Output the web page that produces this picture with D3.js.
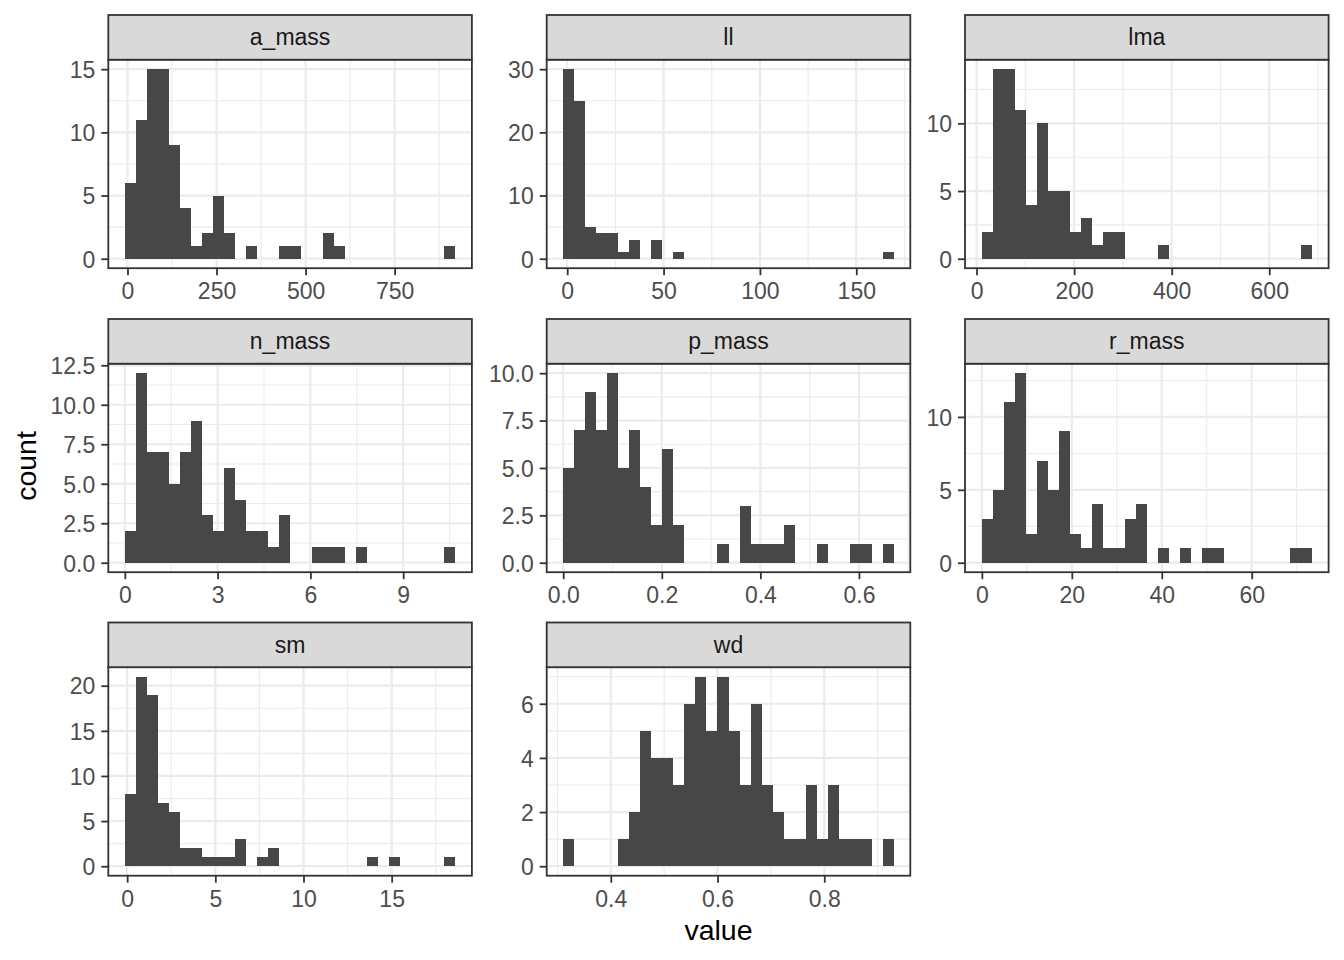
<!DOCTYPE html>
<html>
<head>
<meta charset="utf-8">
<script src="https://cdn.jsdelivr.net/npm/d3@7"></script>
<style>
  body { margin: 0; background: #fff; }
  svg { display: block; font-family: "Liberation Sans", Arial, sans-serif; }
</style>
</head>
<body>
<svg id="chart" width="1344" height="960"></svg>
<script>
// variables (facets), 30 bins each
var vars = ['a_mass', 'll', 'lma', 'n_mass', 'p_mass', 'r_mass', 'sm', 'wd'];

// bin counts
var countsAMass = [6, 11, 15, 15, 9, 4, 1, 2, 5, 2, 0, 1, 0, 0, 1, 1, 0, 0, 2, 1, 0, 0, 0, 0, 0, 0, 0, 0, 0, 1];
var countsLl    = [30, 25, 5, 4, 4, 1, 3, 0, 3, 0, 1, 0, 0, 0, 0, 0, 0, 0, 0, 0, 0, 0, 0, 0, 0, 0, 0, 0, 0, 1];
var countsLma   = [2, 14, 14, 11, 4, 10, 5, 5, 2, 3, 1, 2, 2, 0, 0, 0, 1, 0, 0, 0, 0, 0, 0, 0, 0, 0, 0, 0, 0, 1];
var countsNMass = [2, 12, 7, 7, 5, 7, 9, 3, 2, 6, 4, 2, 2, 1, 3, 0, 0, 1, 1, 1, 0, 1, 0, 0, 0, 0, 0, 0, 0, 1];
var countsPMass = [5, 7, 9, 7, 10, 5, 7, 4, 2, 6, 2, 0, 0, 0, 1, 0, 3, 1, 1, 1, 2, 0, 0, 1, 0, 0, 1, 1, 0, 1];
var countsRMass = [3, 5, 11, 13, 2, 7, 5, 9, 2, 1, 4, 1, 1, 3, 4, 0, 1, 0, 1, 0, 1, 1, 0, 0, 0, 0, 0, 0, 1, 1];
var countsSm    = [8, 21, 19, 7, 6, 2, 2, 1, 1, 1, 3, 0, 1, 2, 0, 0, 0, 0, 0, 0, 0, 0, 1, 0, 1, 0, 0, 0, 0, 1];
var countsWd    = [1, 0, 0, 0, 0, 1, 2, 5, 4, 4, 3, 6, 7, 5, 7, 5, 3, 6, 3, 2, 1, 1, 3, 1, 3, 1, 1, 1, 0, 1];
var countsList = [countsAMass, countsLl, countsLma, countsNMass, countsPMass, countsRMass, countsSm, countsWd];

// min / max of the raw values (first and last bin are centred on them)
var dataMin = [8, 0.79, 21.5, 0.178, 0.0112, 1.15, 0.18, 0.3212];
var dataMax = [905, 166.6, 676.5, 10.51, 0.6595, 72.2, 18.3, 0.9199];

// tick labels
var xTickLabels = [
  ['0', '250', '500', '750'],
  ['0', '50', '100', '150'],
  ['0', '200', '400', '600'],
  ['0', '3', '6', '9'],
  ['0.0', '0.2', '0.4', '0.6'],
  ['0', '20', '40', '60'],
  ['0', '5', '10', '15'],
  ['0.4', '0.6', '0.8']
];
var yTickLabels = [
  ['0', '5', '10', '15'],
  ['0', '10', '20', '30'],
  ['0', '5', '10'],
  ['0.0', '2.5', '5.0', '7.5', '10.0', '12.5'],
  ['0.0', '2.5', '5.0', '7.5', '10.0'],
  ['0', '5', '10'],
  ['0', '5', '10', '15', '20'],
  ['0', '2', '4', '6']
];

// layout
var colX = [108.3, 546.7, 965];
var rowY = [15, 319, 622.5];
var panelW = 363.6;
var stripH = 44.7;
var panelH = 208.5;
var tickFont = 23;

var svg = d3.select('#chart');

function minorBreaks(major, domain) {
  var step = major[1] - major[0];
  var out = [];
  for (var v = major[0] - step / 2; v <= domain[1]; v += step) {
    if (v >= domain[0]) out.push(v);
  }
  return out;
}

vars.forEach(function(name, i) {
  var counts = countsList[i];
  var nb = counts.length;
  var w = (dataMax[i] - dataMin[i]) / (nb - 1);
  var lo = dataMin[i] - w / 2;
  var hi = dataMax[i] + w / 2;
  var pad = (hi - lo) * 0.05;
  var cMax = d3.max(counts);

  var x = d3.scaleLinear().domain([lo - pad, hi + pad]).range([0, panelW]);
  var y = d3.scaleLinear().domain([-cMax * 0.05, cMax * 1.05]).range([panelH, 0]);

  var bins = counts.map(function(c, j) { return {c: c, x0: lo + j * w, x1: lo + (j + 1) * w}; })
    .filter(function(b) { return b.c > 0; });

  var xt = xTickLabels[i].map(Number);
  var yt = yTickLabels[i].map(Number);

  var col = i % 3, row = Math.floor(i / 3);
  var g = svg.append('g')
    .attr('transform', 'translate(' + colX[col] + ',' + (rowY[row] + stripH) + ')');

  g.append('rect').attr('width', panelW).attr('height', panelH).attr('fill', '#fff');

  // minor grid
  g.selectAll('.vminor').data(minorBreaks(xt, x.domain())).enter().append('line')
    .attr('x1', function(d) { return x(d); }).attr('x2', function(d) { return x(d); })
    .attr('y1', 0).attr('y2', panelH)
    .attr('stroke', '#EBEBEB').attr('stroke-width', 1.1);
  g.selectAll('.hminor').data(minorBreaks(yt, y.domain())).enter().append('line')
    .attr('y1', function(d) { return y(d); }).attr('y2', function(d) { return y(d); })
    .attr('x1', 0).attr('x2', panelW)
    .attr('stroke', '#EBEBEB').attr('stroke-width', 1.1);

  // major grid
  g.selectAll('.vmajor').data(xt).enter().append('line')
    .attr('x1', function(d) { return x(d); }).attr('x2', function(d) { return x(d); })
    .attr('y1', 0).attr('y2', panelH)
    .attr('stroke', '#EBEBEB').attr('stroke-width', 2.2);
  g.selectAll('.hmajor').data(yt).enter().append('line')
    .attr('y1', function(d) { return y(d); }).attr('y2', function(d) { return y(d); })
    .attr('x1', 0).attr('x2', panelW)
    .attr('stroke', '#EBEBEB').attr('stroke-width', 2.2);

  // bars
  g.selectAll('.bar').data(bins).enter().append('rect')
    .attr('class', 'bar')
    .attr('x', function(b) { return x(b.x0); })
    .attr('width', function(b) { return x(b.x1) - x(b.x0); })
    .attr('y', function(b) { return y(b.c); })
    .attr('height', function(b) { return y(0) - y(b.c); })
    .attr('fill', '#474747')
    .attr('shape-rendering', 'crispEdges');

  // border
  g.append('rect').attr('width', panelW).attr('height', panelH)
    .attr('fill', 'none').attr('stroke', '#333333').attr('stroke-width', 1.8);

  // strip
  g.append('rect').attr('y', -stripH).attr('width', panelW).attr('height', stripH)
    .attr('fill', '#D9D9D9').attr('stroke', '#333333').attr('stroke-width', 1.8);
  g.append('text').attr('x', panelW / 2).attr('y', -stripH / 2).attr('dy', '0.35em')
    .attr('text-anchor', 'middle').attr('font-size', tickFont).attr('fill', '#1A1A1A')
    .text(name);

  // axes
  var xAxis = d3.axisBottom(x).tickValues(xt).tickSize(7).tickPadding(6)
    .tickFormat(function(d, k) { return xTickLabels[i][k]; });
  var yAxis = d3.axisLeft(y).tickValues(yt).tickSize(7).tickPadding(6)
    .tickFormat(function(d, k) { return yTickLabels[i][k]; });

  var gx = g.append('g').attr('transform', 'translate(0,' + panelH + ')').call(xAxis);
  var gy = g.append('g').call(yAxis);
  [gx, gy].forEach(function(a) {
    a.select('.domain').remove();
    a.selectAll('.tick line').attr('stroke', '#333333').attr('stroke-width', 1.8);
    a.selectAll('.tick text').attr('fill', '#4D4D4D').attr('font-size', tickFont)
      .attr('font-family', '"Liberation Sans", Arial, sans-serif');
  });
  gy.selectAll('.tick text').attr('dy', '0.36em');
  gx.selectAll('.tick text').attr('dy', '0.78em');
});

// axis titles
svg.append('text').attr('x', 718.5).attr('y', 940)
  .attr('text-anchor', 'middle').attr('font-size', 28.5).attr('fill', '#000')
  .text('value');
svg.append('text').attr('transform', 'translate(36,466) rotate(-90)')
  .attr('text-anchor', 'middle').attr('font-size', 28.5).attr('fill', '#000')
  .text('count');
</script>
</body>
</html>
